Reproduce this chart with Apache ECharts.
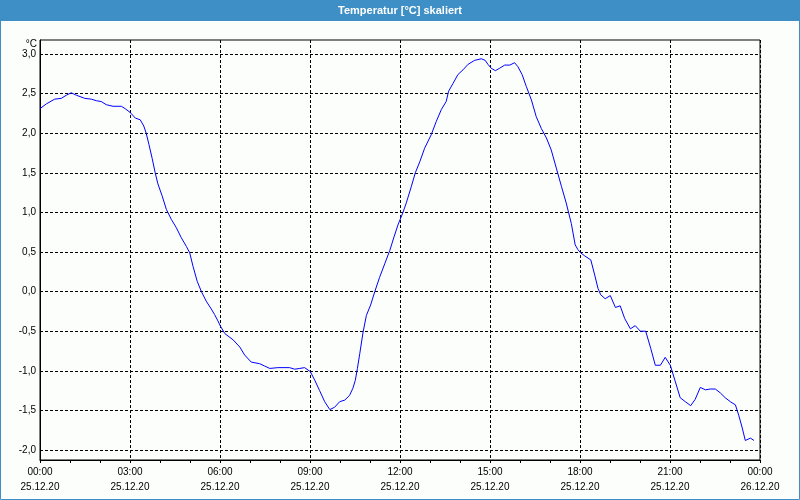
<!DOCTYPE html>
<html>
<head>
<meta charset="utf-8">
<script src="https://cdn.jsdelivr.net/npm/echarts@6/dist/echarts.min.js"></script>
<style>
html,body{margin:0;padding:0;background:#fcfefc;}
#c{width:800px;height:500px;}
</style>
</head>
<body>
<div id="c"></div>
<script>
var titleText = 'Temperatur [°C] skaliert';
var unitText = '°C';
var hours = [0.0,0.21,0.49,0.71,0.88,1.04,1.21,1.49,1.71,1.88,2.04,2.21,2.43,2.71,2.84,3.01,3.18,3.34,3.46,3.54,3.63,3.74,3.84,3.93,4.07,4.21,4.38,4.54,4.71,4.88,4.99,5.10,5.24,5.38,5.54,5.71,5.82,5.93,6.02,6.16,6.44,6.66,6.82,7.04,7.32,7.49,7.66,7.93,8.10,8.32,8.49,8.66,8.82,9.01,9.16,9.32,9.49,9.66,9.82,9.99,10.16,10.32,10.43,10.51,10.58,10.66,10.77,10.88,11.02,11.16,11.32,11.49,11.66,11.80,11.93,12.09,12.21,12.38,12.51,12.66,12.82,13.04,13.21,13.38,13.54,13.62,13.77,13.93,14.10,14.27,14.49,14.71,14.84,14.93,15.04,15.18,15.32,15.49,15.66,15.82,15.93,16.07,16.21,16.38,16.54,16.71,16.88,17.04,17.21,17.38,17.54,17.71,17.84,17.93,18.02,18.16,18.36,18.49,18.60,18.69,18.84,19.01,19.18,19.34,19.49,19.68,19.84,20.01,20.19,20.36,20.51,20.68,20.84,21.01,21.18,21.34,21.51,21.69,21.84,22.01,22.18,22.34,22.51,22.68,22.84,23.01,23.18,23.29,23.40,23.51,23.68,23.80];
var temps = [2.31,2.37,2.43,2.44,2.48,2.51,2.48,2.44,2.43,2.41,2.40,2.36,2.34,2.34,2.31,2.26,2.19,2.17,2.09,2.00,1.86,1.68,1.50,1.36,1.21,1.04,0.91,0.81,0.68,0.57,0.49,0.32,0.13,0.00,-0.12,-0.22,-0.29,-0.37,-0.44,-0.53,-0.61,-0.70,-0.80,-0.89,-0.91,-0.94,-0.97,-0.96,-0.96,-0.96,-0.98,-0.97,-0.96,-1.01,-1.12,-1.25,-1.39,-1.49,-1.46,-1.39,-1.37,-1.31,-1.22,-1.12,-0.97,-0.78,-0.51,-0.30,-0.17,0.00,0.18,0.35,0.52,0.69,0.84,0.99,1.12,1.33,1.50,1.64,1.81,1.98,2.15,2.30,2.40,2.53,2.63,2.74,2.80,2.87,2.92,2.94,2.92,2.87,2.82,2.79,2.82,2.86,2.86,2.89,2.84,2.74,2.59,2.42,2.21,2.06,1.94,1.79,1.56,1.33,1.12,0.86,0.59,0.53,0.49,0.45,0.40,0.21,0.04,-0.04,-0.09,-0.05,-0.20,-0.18,-0.34,-0.47,-0.43,-0.50,-0.50,-0.72,-0.93,-0.93,-0.83,-0.93,-1.14,-1.34,-1.39,-1.44,-1.36,-1.21,-1.24,-1.23,-1.23,-1.28,-1.34,-1.39,-1.43,-1.56,-1.71,-1.88,-1.85,-1.88];
var xTickLabels = ['00:00\n25.12.20','03:00\n25.12.20','06:00\n25.12.20','09:00\n25.12.20','12:00\n25.12.20','15:00\n25.12.20','18:00\n25.12.20','21:00\n25.12.20','00:00\n26.12.20'];
var yMin = -2, yMax = 3, yStep = 0.5;

var data = hours.map(function(h, i){ return [h, temps[i]]; });
var chart = echarts.init(document.getElementById('c'), null, {renderer:'canvas'});
var fontFam = '"Liberation Sans", Arial, sans-serif';
var dashed = {show:true, lineStyle:{color:'#000', width:1, type:[3,2]}};
chart.setOption({
  backgroundColor:'#fcfefc',
  animation:false,
  graphic:[
    {type:'rect', shape:{x:0,y:0,width:800,height:21}, style:{fill:'#3d8fc6'}, z:10},
    {type:'rect', shape:{x:0.5,y:0.5,width:799,height:499}, style:{fill:null, stroke:'#3d8fc6', lineWidth:1}, z:10},
    {type:'text', x:400, y:10.5, style:{text:titleText, fill:'#fff', font:'bold 11px '+fontFam, align:'center', verticalAlign:'middle'}, z:11},
    {type:'text', x:37, y:44.5, style:{text:unitText, fill:'#000', font:'10px '+fontFam, align:'right', verticalAlign:'middle'}, z:11}
  ],
  grid:[
    {left:40, top:40, width:720, height:420, show:true, borderColor:'#000', borderWidth:1, backgroundColor:'transparent'},
    {left:40, top:54, width:720, height:396, show:false}
  ],
  xAxis:[
    {gridIndex:0, type:'value', min:0, max:24, interval:3,
     axisLine:{show:true, lineStyle:{color:'#000'}},
     axisTick:{show:true, length:3, lineStyle:{color:'#000'}},
     minorTick:{show:true, splitNumber:3, length:3, lineStyle:{color:'#000'}},
     splitLine:dashed,
     axisLabel:{color:'#000', fontFamily:fontFam, fontSize:10, lineHeight:15, margin:5,
       formatter:function(v){ return xTickLabels[Math.round(v/3)] || ''; }}
    },
    {gridIndex:1, type:'value', min:0, max:24, show:false}
  ],
  yAxis:[
    {gridIndex:0, type:'value', min:0, max:1, show:true,
     axisLine:{show:true, lineStyle:{color:'#000'}}, axisTick:{show:false}, axisLabel:{show:false}, splitLine:{show:false}},
    {gridIndex:1, type:'value', min:yMin, max:yMax, interval:yStep,
     axisLine:{show:false}, axisTick:{show:false},
     splitLine:dashed,
     axisLabel:{color:'#000', fontFamily:fontFam, fontSize:10, margin:4,
       formatter:function(v){ return v.toFixed(1).replace('.', ','); }}
    }
  ],
  series:[{
    type:'line', xAxisIndex:1, yAxisIndex:1, data:data,
    showSymbol:false, symbol:'none', smooth:false,
    lineStyle:{color:'#0000ff', width:1}, z:5
  }]
});
</script>
</body>
</html>
